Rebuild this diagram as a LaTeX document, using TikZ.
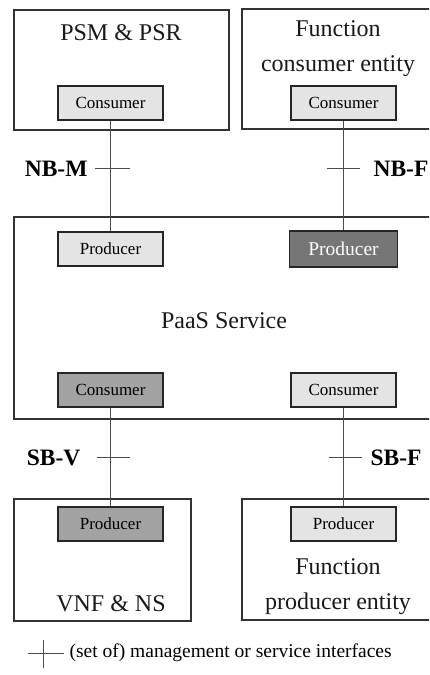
\documentclass[tikz,border=0pt]{standalone}
\usepackage{fontspec}
\setmainfont{Liberation Serif}
\usetikzlibrary{positioning}

\definecolor{lightbox}{HTML}{E4E4E4}
\definecolor{midbox}{HTML}{A3A3A3}
\definecolor{darkbox}{HTML}{767676}

\begin{document}
\begin{tikzpicture}[x = 1pt, y = -1pt, on grid, node distance = 233pt, entity/.style = {draw = black!80, line width = 1.3pt, inner sep = 0pt}, port/.style = {draw = black!85, line width = 1.8pt, fill = lightbox, minimum width = 105pt, minimum height = 34pt, inner sep = 0pt, font = \fontsize{17}{19}\selectfont}, mid/.style = {fill = midbox}, dark/.style = {fill = darkbox, text = white, minimum width = 108pt, minimum height = 36pt, font = \fontsize{19.5}{21}\selectfont}, title/.style = {align = center, font = \fontsize{24}{35}\selectfont, text = black!90}, ifname/.style = {font = \fontsize{23.5}{25}\selectfont\bfseries}, link/.style = {draw = black!70, line width = 0.8pt}]
\useasboundingbox (0,0) rectangle (429,675);
\clip (0,0) rectangle (429,675);

\node[entity, minimum width = 215pt, minimum height = 120pt] (psm) at (121.5,70) {};
\node[entity, minimum width = 200pt, minimum height = 120pt] (fce) at (342,69) {};
\node[entity, minimum width = 428pt, minimum height = 202pt] (paas) at (228,318) {};
\node[entity, minimum width = 177pt, minimum height = 122pt] (vnf) at (102.5,560) {};
\node[entity, minimum width = 200pt, minimum height = 121pt] (fpe) at (342,559.5) {};

\node[title] (psmT) at (121,33) {PSM \& PSR};
\node[title] (fceT) at (338,49) {Function\\consumer entity};
\node[title] (paasT) at (224,321) {PaaS Service};
\node[title] (vnfT) at (111,604) {VNF \& NS};
\node[title] (fpeT) at (338,587) {Function\\producer entity};

\node[port] (cons1) at (110.5,103) {Consumer};
\node[port, right of = cons1] (cons2) {Consumer};
\node[port] (prod1) at (110.5,249) {Producer};
\node[port, dark, right of = prod1] (prod2) {Producer};
\node[port, mid] (cons3) at (110.5,390) {Consumer};
\node[port, right of = cons3] (cons4) {Consumer};
\node[port, mid] (prod3) at (110.5,524) {Producer};
\node[port, right of = prod3] (prod4) {Producer};

\draw[link] (cons1) -- (prod1);
\draw[link] (cons2) -- (prod2);
\draw[link] (cons3) -- (prod3);
\draw[link] (cons4) -- (prod4);

\coordinate (nbm) at (110.5,168);
\coordinate (nbf) at (343.5,168);
\coordinate (sbv) at (110.5,457);
\coordinate (sbf) at (343.5,457);
\draw[link] ([xshift = -16pt]nbm) -- ([xshift = 19pt]nbm);
\draw[link] ([xshift = -17pt]nbf) -- ([xshift = 16pt]nbf);
\draw[link] ([xshift = -14pt]sbv) -- ([xshift = 19pt]sbv);
\draw[link] ([xshift = -15pt]sbf) -- ([xshift = 18pt]sbf);

\node[ifname, anchor = east] (nbmL) at (91,169) {NB-M};
\node[ifname, anchor = west] (nbfL) at (370,169) {NB-F};
\node[ifname, anchor = east] (sbvL) at (84,458) {SB-V};
\node[ifname, anchor = west] (sbfL) at (367,458) {SB-F};

% legend
\coordinate (key) at (43,653);
\draw[link] ([xshift = -15pt]key) -- ([xshift = 21pt]key);
\draw[link] ([yshift = 13pt]key) -- ([yshift = -15pt]key);
\node[anchor = west, font = \fontsize{19.5}{21}\selectfont] (keyT) at (66,653) {(set of) management or service interfaces};
\end{tikzpicture}
\end{document}
